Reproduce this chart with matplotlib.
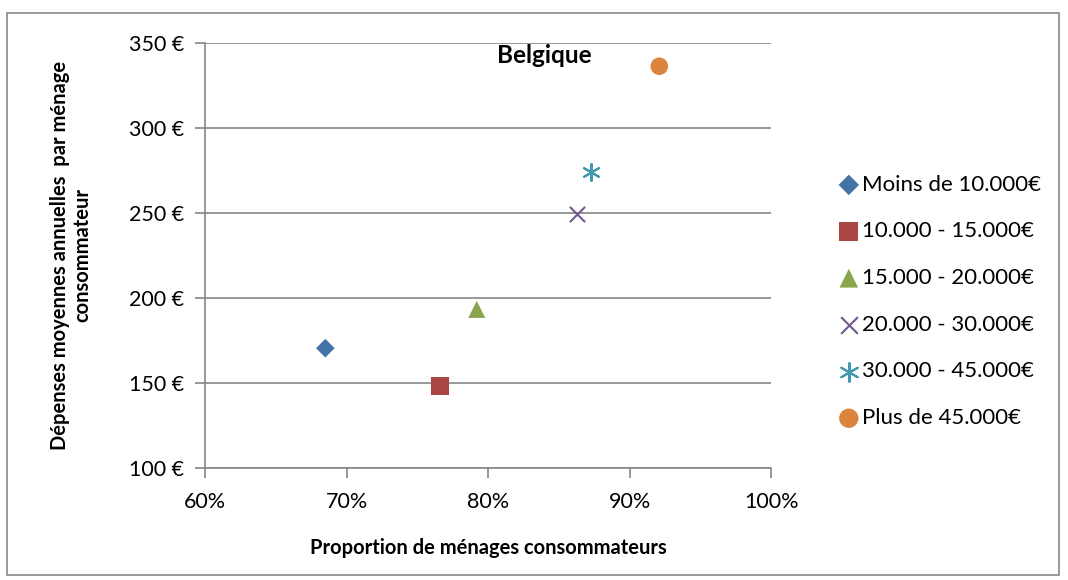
import matplotlib
matplotlib.use("Agg")
import matplotlib.pyplot as plt
from matplotlib.patches import Rectangle

plt.rcParams['font.family'] = ['Lato', 'DejaVu Sans']

# data
categories = ["Moins de 10.000€", "10.000 - 15.000€", "15.000 - 20.000€",
              "20.000 - 30.000€", "30.000 - 45.000€", "Plus de 45.000€"]
proportion = [68.5, 76.6, 79.2, 86.3, 87.3, 92.1]   # %
depenses = [170.5, 148.4, 193.3, 249.6, 274.0, 336.3]  # €
markers = ["D", "s", "^", "x", "*", "o"]
colors = ["#4572A7", "#AA4643", "#89A54E", "#71588F", "#4198AF", "#DB843D"]
sizes = [90, 160, 150, 120, 150, 160]

fig = plt.figure(figsize=(10.68, 5.8), dpi=100)
ax = fig.add_axes([0.192, 0.193, 0.530, 0.733])

# outer chart border
fig.patches.append(Rectangle((7 / 1068, 5 / 580), 1052 / 1068, 562 / 580,
                             transform=fig.transFigure, fill=False,
                             edgecolor="#888888", linewidth=1.2))

for i in range(len(categories)):
    if markers[i] == "x":
        ax.scatter(proportion[i], depenses[i], marker="x", s=sizes[i],
                   color=colors[i], linewidths=1.5, label=categories[i], zorder=3)
    elif markers[i] == "*":
        ax.scatter(proportion[i], depenses[i], marker=(6, 2, 0), s=sizes[i],
                   color=colors[i], linewidths=1.5, label=categories[i], zorder=3)
    else:
        ax.scatter(proportion[i], depenses[i], marker=markers[i], s=sizes[i],
                   color=colors[i], edgecolors="none", label=categories[i], zorder=3)

ax.set_xlim(60, 100)
ax.set_ylim(100, 350)
ax.set_xticks([60, 70, 80, 90, 100])
ax.set_xticklabels(["60%", "70%", "80%", "90%", "100%"])
ax.set_yticks([100, 150, 200, 250, 300, 350])
ax.set_yticklabels(["100 €", "150 €", "200 €", "250 €", "300 €", "350 €"])
ax.grid(axis="y", color="#868686", linewidth=1.2)
ax.set_axisbelow(True)

for side in ["top", "right"]:
    ax.spines[side].set_visible(False)
for side in ["left", "bottom"]:
    ax.spines[side].set_color("#868686")
    ax.spines[side].set_linewidth(1.2)
ax.tick_params(axis="both", direction="out", length=7, width=1.2,
               color="#868686", labelsize=15.5, labelcolor="black")
ax.tick_params(axis="y", pad=8)
ax.tick_params(axis="x", pad=10)

ax.set_xlabel("Proportion de ménages consommateurs", fontsize=14.5,
              fontweight="bold", labelpad=19)
ax.set_ylabel("Dépenses moyennes annuelles  par ménage\nconsommateur",
              fontsize=14.5, fontweight="bold", labelpad=26)

ax.text(0.60, 0.998, "Belgique", transform=ax.transAxes, ha="center", va="top",
        fontsize=17.5, fontweight="bold")

leg = ax.legend(loc="center left", bbox_to_anchor=(1.10, 0.392), frameon=False,
                fontsize=16, handletextpad=0.05, labelspacing=1.2,
                handlelength=1.1, borderaxespad=0, markerscale=1.1)

fig.savefig("out.png", dpi=100)
